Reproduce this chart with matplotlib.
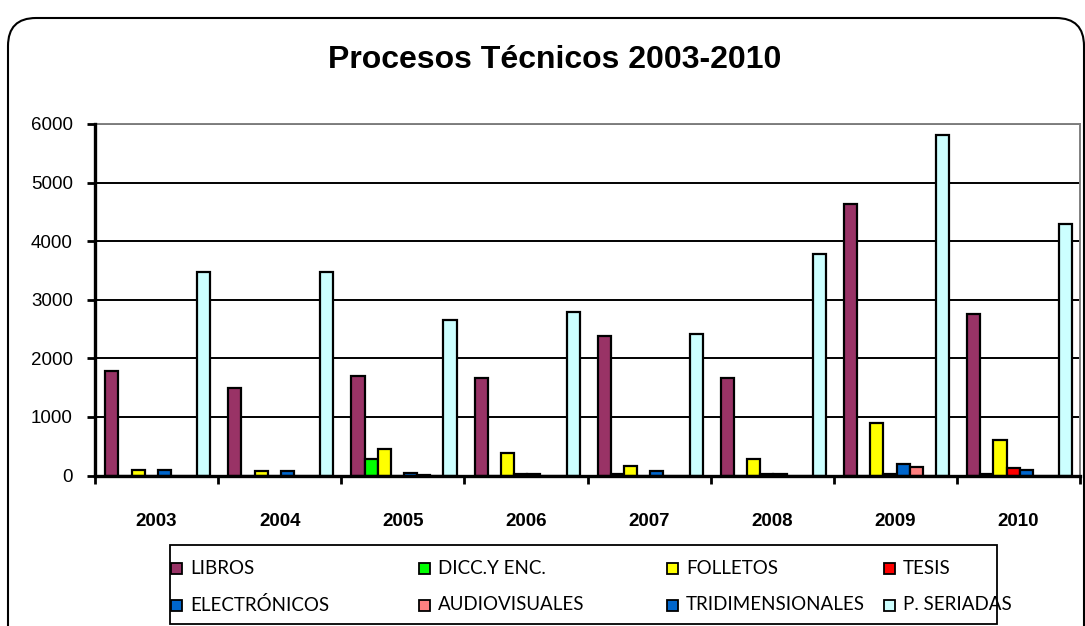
import matplotlib.pyplot as plt
import numpy as np
from matplotlib.patches import FancyBboxPatch, Rectangle
from matplotlib.transforms import IdentityTransform

years = ["2003", "2004", "2005", "2006", "2007", "2008", "2009", "2010"]
series = ["LIBROS", "DICC.Y ENC.", "FOLLETOS", "TESIS",
          "ELECTRÓNICOS", "AUDIOVISUALES", "TRIDIMENSIONALES", "P. SERIADAS"]
libros = [1790, 1490, 1690, 1660, 2380, 1660, 4640, 2760]
dicc = [0, 0, 280, 0, 30, 0, 0, 30]
folletos = [90, 80, 460, 390, 160, 290, 900, 600]
tesis = [0, 0, 0, 30, 0, 30, 30, 120]
electronicos = [90, 80, 40, 30, 80, 30, 190, 90]
audiovisuales = [0, 0, 10, 0, 0, 0, 150, 0]
tridimensionales = [0, 0, 0, 0, 0, 0, 0, 0]
seriadas = [3470, 3470, 2660, 2790, 2410, 3780, 5810, 4300]
colors = ["#993366", "#00FF00", "#FFFF00", "#FF0000",
          "#0066CC", "#FF8080", "#0066CC", "#CCFFFF"]


def main():
    values = [libros, dicc, folletos, tesis, electronicos,
              audiovisuales, tridimensionales, seriadas]

    fig = plt.figure(figsize=(10.85, 6.26), dpi=100)
    ax = fig.add_axes([95 / 1085, 1 - 475.5 / 626, 985 / 1085, 351.5 / 626])

    x = np.arange(len(years))
    w = 1 / 9.37
    for j, (vals, c) in enumerate(zip(values, colors)):
        ax.bar(x + (j - 3.5) * w + 0.01, vals, w, color=c, edgecolor="black",
               linewidth=1.6, zorder=2)

    ax.set_xlim(-0.5, 7.5)
    ax.set_ylim(0, 6000)
    ax.set_yticks(range(0, 6001, 1000))
    ax.set_axisbelow(True)
    ax.yaxis.grid(True, color="black", linewidth=1.4)
    ax.tick_params(axis="y", direction="out", length=6, width=2,
                   pad=10, labelsize=13.5)
    ax.set_xticks(x)
    ax.set_xticklabels(years, fontweight="bold", fontsize=13.5)
    ax.set_xticks(np.arange(-0.5, 8, 1), minor=True)
    ax.tick_params(axis="x", which="major", length=0, pad=27)
    ax.tick_params(axis="x", which="minor", direction="out", length=6, width=2)
    for s in ["left", "bottom"]:
        ax.spines[s].set_linewidth(2.4)
        ax.spines[s].set_color("black")
        ax.spines[s].set_zorder(3)
    for s in ["top", "right"]:
        ax.spines[s].set_linewidth(1.4)
        ax.spines[s].set_color("#808080")
    for lbl in ax.get_yticklabels() + ax.get_xticklabels():
        lbl.set_family("Liberation Sans")

    fig.text(555 / 1085, 1 - 60 / 626, "Procesos Técnicos 2003-2010",
             ha="center", va="center", fontsize=23, fontweight="bold",
             family="Liberation Sans")

    # outer rounded frame
    fig.add_artist(FancyBboxPatch((8, -40), 1076, 648,
                                  boxstyle="round,pad=0,rounding_size=28",
                                  transform=IdentityTransform(),
                                  facecolor="none", edgecolor="black",
                                  linewidth=1.5))

    # legend box
    fig.add_artist(Rectangle((170, 626 - 624), 827, 79,
                             transform=IdentityTransform(),
                             facecolor="none", edgecolor="black", linewidth=1.3))
    col_x = [171, 419, 667, 884]
    row_y = [568, 605]
    for i, (name, c) in enumerate(zip(series, colors)):
        cx = col_x[i % 4]
        cy = 626 - row_y[i // 4]
        fig.add_artist(Rectangle((cx, cy - 5.5), 11, 11,
                                 transform=IdentityTransform(),
                                 facecolor=c, edgecolor="black", linewidth=1.3))
        fig.text((cx + 19) / 1085, cy / 626, name, ha="left", va="center",
                 fontsize=13.5, family="Lato")

    fig.savefig("out.png", dpi=100)


if __name__ == "__main__":
    main()
